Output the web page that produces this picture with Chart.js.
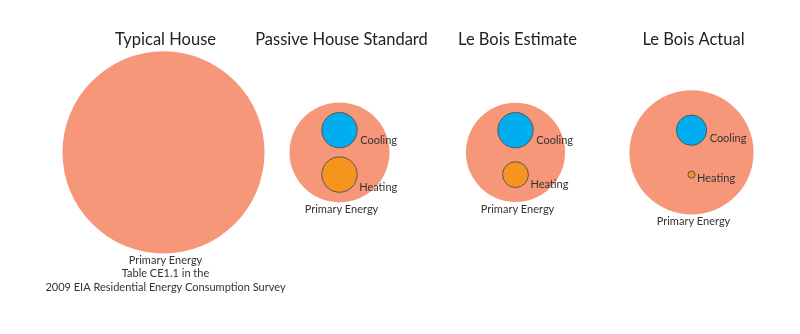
<!DOCTYPE html>
<html>
<head>
<meta charset="utf-8">
<title>Primary energy, cooling and heating</title>
<script src="https://cdn.jsdelivr.net/npm/chart.js@4.4.1/dist/chart.umd.min.js"></script>
<style>
  html, body { margin: 0; padding: 0; background: #fff; }
  #wrap { width: 800px; height: 334px; position: relative; }
</style>
</head>
<body>
<div id="wrap"><canvas id="chart" width="800" height="334"></canvas></div>
<script>
// energy use per house, kWh/m²·yr (bubble area follows the value)
const groups = ['Typical House', 'Passive House Standard', 'Le Bois Estimate', 'Le Bois Actual'];
const primaryEnergy = [490, 120, 118, 185];
const cooling = [null, 15, 15, 11];
const heating = [null, 15, 8, 0.6];
const notes = [['Table CE1.1 in the', '2009 EIA Residential Energy Consumption Survey'], [], [], []];

// row of each bubble inside a group: cooling above, heating below
const ROW = { primary: 0, cooling: 1, heating: -1 };

const COLORS = {
  primary: '#F7977A',
  cooling: '#00AEEF',
  heating: '#F7941E',
  edge: '#555555',
  text: '#333333',
  title: '#222222'
};
const FONT = 'Lato, "Open Sans", sans-serif';

// px radius so that area is proportional to energy
const K = 50 / Math.sqrt(120);
const radiusOf = v => K * Math.sqrt(v);

function toPoints(values, row) {
  const pts = [];
  values.forEach((v, i) => {
    if (v === null) return;
    pts.push({ x: i, y: row, r: radiusOf(v), v: v });
  });
  return pts;
}

// titles, bubble labels and the source note
const labelPlugin = {
  id: 'bubbleLabels',
  afterDatasetsDraw(chart) {
    const ctx = chart.ctx;
    const prim = chart.getDatasetMeta(0).data;
    const cool = chart.getDatasetMeta(1);
    const heat = chart.getDatasetMeta(2);
    ctx.save();
    ctx.textAlign = 'center';
    ctx.textBaseline = 'middle';

    prim.forEach((el, i) => {
      const r = el.options.radius;
      ctx.fillStyle = COLORS.title;
      ctx.font = '16.5px ' + FONT;
      ctx.fillText(groups[i], el.x + 2, 40);

      ctx.fillStyle = COLORS.text;
      ctx.font = '11px ' + FONT;
      const y0 = el.y + r + 7;
      ctx.fillText('Primary Energy', el.x + 2, y0);
      notes[i].forEach((line, j) => {
        ctx.fillText(line, el.x + 2, y0 + 13.5 * (j + 1));
      });
    });

    ctx.textAlign = 'left';
    ctx.fillStyle = COLORS.text;
    ctx.font = '11px ' + FONT;
    cool.data.forEach(el => {
      const r = el.options.radius;
      ctx.fillText('Cooling', el.x + r + 3, el.y + r * 0.5 + 1);
    });
    heat.data.forEach(el => {
      const r = el.options.radius;
      ctx.fillText('Heating', el.x + r + 2, el.y + r * 0.6 + 2);
    });
    ctx.restore();
  }
};

// group centres 176px apart starting near x=163, rows 22px apart
const xUnit = 176;
const xMin = -163.5 / xUnit;
const yUnit = 22.2;
const yMax = 152.4 / yUnit;

new Chart(document.getElementById('chart'), {
  type: 'bubble',
  data: {
    datasets: [
      {
        label: 'Primary Energy',
        data: toPoints(primaryEnergy, ROW.primary),
        backgroundColor: COLORS.primary,
        borderWidth: 0,
        clip: false,
        order: 3
      },
      {
        label: 'Cooling',
        data: toPoints(cooling, ROW.cooling),
        backgroundColor: COLORS.cooling,
        borderColor: COLORS.edge,
        borderWidth: 1,
        clip: false,
        order: 1
      },
      {
        label: 'Heating',
        data: toPoints(heating, ROW.heating),
        backgroundColor: COLORS.heating,
        borderColor: COLORS.edge,
        borderWidth: 1,
        clip: false,
        order: 1
      }
    ]
  },
  options: {
    responsive: false,
    animation: false,
    events: [],
    layout: { padding: 0, autoPadding: false },
    scales: {
      x: { type: 'linear', display: false, min: xMin, max: xMin + 800 / xUnit },
      y: { type: 'linear', display: false, min: yMax - 334 / yUnit, max: yMax }
    },
    plugins: {
      legend: { display: false },
      tooltip: { enabled: false }
    }
  },
  plugins: [labelPlugin]
});
</script>
</body>
</html>
